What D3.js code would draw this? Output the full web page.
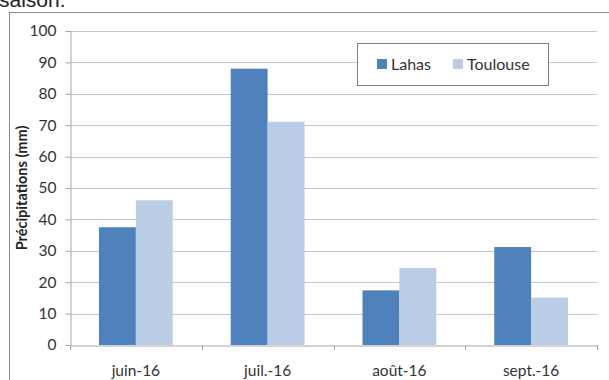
<!DOCTYPE html>
<html><head><meta charset="utf-8">
<script src="https://cdn.jsdelivr.net/npm/d3@7"></script>
<style>body{margin:0;background:#fff}svg{display:block}</style>
</head><body>
<svg id="c" width="609" height="380"></svg>
<script>
const categories = ["juin-16", "juil.-16", "août-16", "sept.-16"];
const seriesNames = ["Lahas", "Toulouse"];
const lahas = [37.5, 88.0, 17.4, 31.2];
const toulouse = [46.1, 71.1, 24.5, 15.1];
const yTicks = [0, 10, 20, 30, 40, 50, 60, 70, 80, 90, 100];
const colors = ["#4F81BD", "#B9CDE5"];

const svg = d3.select("#c");
const font = "Lato, 'Open Sans', sans-serif";
const m = {l: 70, r: 597, t: 31, b: 345};

// outer frame
svg.append("rect").attr("x", 9.5).attr("y", 12.5).attr("width", 700).attr("height", 400)
  .attr("fill", "none").attr("stroke", "#8c8c8c").attr("stroke-width", 1);

// partial caption text at top (cut off in the original)
svg.append("text").attr("x", -1).attr("y", 7).attr("font-family", "Arial, 'Liberation Sans', sans-serif")
  .attr("font-size", 21).attr("fill", "#222").text("saison.");

const x = d3.scaleBand().domain(categories).range([m.l, m.r]).padding(0);
const y = d3.scaleLinear().domain([0, 100]).range([m.b, m.t]);

// gridlines
svg.append("g").selectAll("line").data(yTicks.filter(d => d > 0)).join("line")
  .attr("x1", m.l).attr("x2", m.r)
  .attr("y1", d => Math.round(y(d)) + 0.5).attr("y2", d => Math.round(y(d)) + 0.5)
  .attr("stroke", "#c6c6c6").attr("stroke-width", 1.2);

// bars
const barW = x.bandwidth() * 0.28;
const data = categories.map((c, i) => ({c, vals: [lahas[i], toulouse[i]]}));
const g = svg.append("g");
data.forEach(d => {
  d.vals.forEach((v, j) => {
    const cx = x(d.c) + x.bandwidth() / 2;
    g.append("rect")
      .attr("x", cx - barW + j * barW)
      .attr("y", y(v))
      .attr("width", barW)
      .attr("height", y(0) - y(v))
      .attr("fill", colors[j]);
  });
});

// y axis
const ya = svg.append("g").attr("transform", `translate(${m.l + 0.5},0)`)
  .call(d3.axisLeft(y).tickValues(yTicks).tickSize(5).tickPadding(9));
ya.select(".domain").attr("stroke", "#a8a8a8");
ya.selectAll(".tick line").attr("stroke", "#a8a8a8");
ya.selectAll("text").attr("font-family", font).attr("font-size", 15.5).attr("fill", "#333");

// x axis
const xa = svg.append("g").attr("transform", `translate(0,${m.b + 0.5})`)
  .call(d3.axisBottom(x).tickSize(0).tickPadding(19));
xa.select(".domain").attr("stroke", "#a8a8a8");
xa.selectAll("text").attr("font-family", font).attr("font-size", 15.5).attr("fill", "#333");
// category separator ticks
const sep = categories.map(c => x(c)).concat([x.range()[1]]);
svg.append("g").selectAll("line").data(sep).join("line")
  .attr("x1", d => Math.round(d) + 0.5).attr("x2", d => Math.round(d) + 0.5)
  .attr("y1", m.b).attr("y2", m.b + 5).attr("stroke", "#a8a8a8");

// y label
svg.append("text").attr("transform", `translate(27,${(m.t + m.b) / 2}) rotate(-90)`)
  .attr("text-anchor", "middle").attr("font-family", font).attr("font-weight", "bold")
  .attr("font-size", 14.5).attr("fill", "#222").text("Précipitations (mm)");

// legend
const lg = svg.append("g");
lg.append("rect").attr("x", 357.5).attr("y", 43.5).attr("width", 191).attr("height", 42)
  .attr("fill", "#fff").attr("stroke", "#7f7f7f");
const legX = [377, 453];
seriesNames.forEach((n, i) => {
  lg.append("rect").attr("x", legX[i]).attr("y", 59).attr("width", 10).attr("height", 10).attr("fill", colors[i]);
  lg.append("text").attr("x", legX[i] + 14).attr("y", 70).attr("font-family", font)
    .attr("font-size", 16).attr("fill", "#333").text(n);
});
</script>
</body></html>
